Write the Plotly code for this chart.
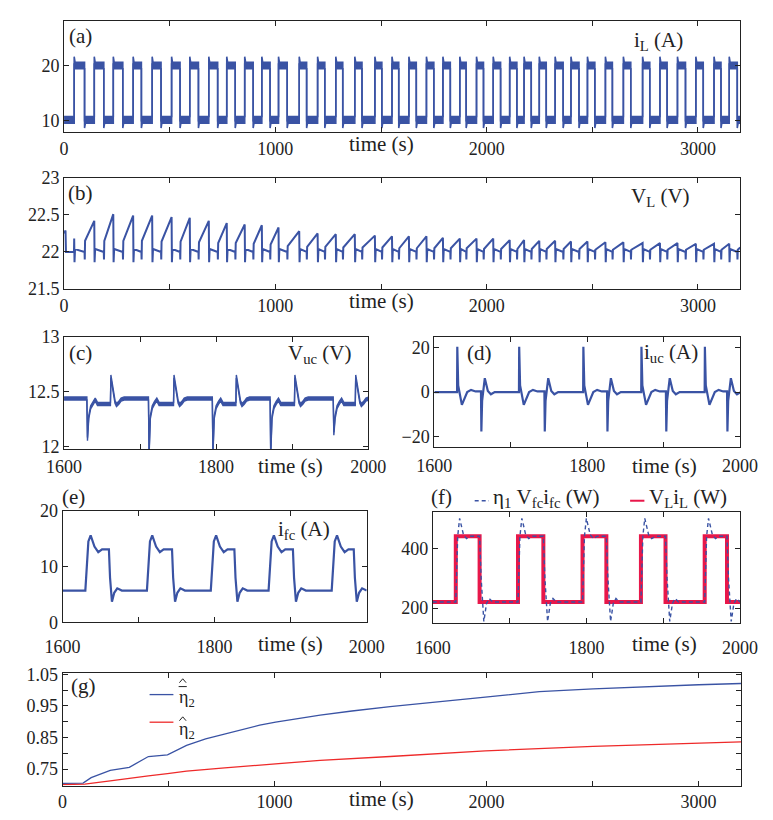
import plotly.graph_objects as go

W, H = 773, 820
BLUE = '#3A53A4'
RED_F = '#E8174A'
RED_G = '#EE2A2A'
INK = '#222222'
FONT = 'Liberation Serif, Times New Roman, serif'

# ---------------- data ----------------
T_END = 3200
# (a) load current i_L : switching instants (s)
IL_RISE = [48, 143, 233, 327, 417, 509, 595, 685, 770, 855, 936, 1015, 1113, 1200, 1286, 1376,
           1471, 1552, 1632, 1715, 1793, 1873, 1952, 2031, 2109, 2177, 2249, 2324, 2399, 2477,
           2562, 2647, 2738, 2820, 2903, 2990, 3076, 3148]
IL_FALL = [97, 188, 278, 366, 459, 549, 636, 727, 810, 895, 975, 1056, 1148, 1234, 1319, 1410,
           1504, 1584, 1667, 1750, 1828, 1903, 1985, 2066, 2143, 2211, 2282, 2362, 2437, 2512,
           2595, 2682, 2772, 2854, 2941, 3025, 3109, 3186]
IL_LEVELS = [10.1, 20.0]          # low, high
IL_EDGE = [21.0, 9.2]             # overshoot at rise, undershoot at fall
IL_BAND = 0.6                     # half width of the noise band

# (b) load voltage V_L
VL_INIT_T = [0, 7, 9]
VL_INIT_V = [22.25, 22.29, 22.0]
VL_PEAK = [22.18, 22.42, 22.51, 22.49, 22.49, 22.47, 22.46, 22.42, 22.39, 22.37, 22.36, 22.33,
           22.28, 22.25, 22.24, 22.24, 22.22, 22.21, 22.21, 22.21, 22.19, 22.18, 22.18, 22.18,
           22.16, 22.16, 22.15, 22.15, 22.14, 22.14, 22.13, 22.13, 22.12, 22.12, 22.12, 22.11,
           22.11, 22.11]
VL_RAMP_START = [22.15, 22.15, 22.15, 22.15, 22.14, 22.14, 22.13, 22.12, 22.12, 22.11, 22.10,
                 22.08, 22.07, 22.07, 22.06, 22.06, 22.06, 22.05, 22.05, 22.05, 22.05, 22.05,
                 22.04, 22.04, 22.04, 22.04, 22.04, 22.04, 22.04, 22.03, 22.03, 22.03, 22.03,
                 22.03, 22.03, 22.03, 22.03, 22.03]
VL_RISE_DT = [1.5, 4]
VL_RISE_V = [21.86, 22.04]
VL_FALL_DT = [0, 1]
VL_FALL_V = [22.0, 21.9]
VL_END = 22.06

# (c)-(f) zoom window 1600-2000 s
Z_RISE = [1630, 1711, 1795, 1871, 1954]
Z_FALL = [1661, 1744, 1826, 1903, 1983]

VUC_BASE = 12.44
VUC_DIP = [12.07, 11.93, 11.93, 11.93, 12.12]
VUC_RISE_DT = [0, 0.8, 2.5, 5, 8, 11, 14]
VUC_RISE_V = [12.44, None, 12.27, 12.36, 12.40, 12.43, 12.39]
VUC_FALL_DT = [0, 0.6, 3, 6, 8, 11, 14, 18]
VUC_FALL_V = [12.39, 12.64, 12.52, 12.41, 12.38, 12.40, 12.43, 12.44]
VUC_BAND = 0.014

IUC_BASE = 0.0
IUC_RISE_DT = [-0.3, 0, 1.2, 6, 13, 18, 24]
IUC_RISE_V = [0.0, 20.5, 3.0, -5.8, 0.0, 1.0, 0.3]
IUC_FALL_DT = [0, 0.5, 1.5, 5, 9, 13, 18]
IUC_FALL_V = [0.3, -17.8, -4.0, 6.3, 0.5, -1.0, 0.0]

IFC_BASE = 5.7
IFC_RISE_DT = [0, 4, 7, 12, 17, 22]
IFC_RISE_V = [5.7, 14.5, 15.6, 13.6, 12.6, 13.1]
IFC_FALL_DT = [0, 1.5, 4, 7, 11, 17]
IFC_FALL_V = [13.1, 8.0, 3.7, 5.3, 6.1, 5.7]

PL_BASE = 220
PL_RISE_DT = [0, 0]
PL_RISE_V = [220, 440]
PL_FALL_DT = [0, 0]
PL_FALL_V = [440, 220]

PFC_RISE_DT = [0, 2.5, 5, 10, 14, 19]
PFC_RISE_V = [220, 440, 500, 445, 432, 440]
PFC_FALL_DT = [0, 2, 5.5, 9, 12.5, 17]
PFC_FALL_V = [440, 300, 155, 215, 232, 220]

# (g) efficiency estimates
G_T_BLUE = [0, 97, 135, 225, 315, 405, 495, 585, 675, 765, 840, 930, 1005, 1110, 1215, 1365,
            1545, 1994, 2249, 2503, 2743, 3000, 3200]
G_BLUE = [0.705, 0.706, 0.723, 0.746, 0.756, 0.790, 0.795, 0.825, 0.846, 0.861, 0.874, 0.889,
          0.899, 0.910, 0.921, 0.934, 0.948, 0.978, 0.995, 1.004, 1.011, 1.017, 1.021]
G_T_RED = [0, 105, 225, 315, 405, 495, 585, 765, 1005, 1215, 1545, 1994, 2503, 3000, 3200]
G_RED = [0.701, 0.703, 0.713, 0.722, 0.729, 0.736, 0.744, 0.754, 0.766, 0.778, 0.790, 0.808,
         0.822, 0.833, 0.836]


# ---------------- build series from the read events ----------------
def event_series(t0, t1, base, rises, falls, rdt, rv, fdt, fv, dips=None):
    t, v = [t0], [base]
    for i, (r, f) in enumerate(zip(rises, falls)):
        vals = list(rv)
        if dips is not None:
            vals = [dips[i] if x is None else x for x in vals]
        t += [r + d for d in rdt]
        v += vals
        t += [f + d for d in fdt]
        v += list(fv)
    t.append(t1)
    v.append(v[-1])
    return t, v


il_t, il_v = event_series(0, T_END, IL_LEVELS[0], IL_RISE, IL_FALL,
                          [0, 0, 4], [IL_LEVELS[0], IL_EDGE[0], IL_LEVELS[1]],
                          [0, 0, 4], [IL_LEVELS[1], IL_EDGE[1], IL_LEVELS[0]])

vl_t, vl_v = list(VL_INIT_T), list(VL_INIT_V)
for i, (r, f) in enumerate(zip(IL_RISE, IL_FALL)):
    if i == 0:
        vl_t.append(r - 1)
        vl_v.append(VL_INIT_V[-1])
    vl_t += [r] + [r + d for d in VL_RISE_DT] + [f + d for d in VL_FALL_DT] + [f + 2.5]
    vl_v += [VL_PEAK[i]] + VL_RISE_V + VL_FALL_V + [VL_RAMP_START[i]]
vl_t.append(T_END)
vl_v.append(VL_END)

vuc_t, vuc_v = event_series(1600, 2000, VUC_BASE, Z_RISE, Z_FALL, VUC_RISE_DT, VUC_RISE_V,
                            VUC_FALL_DT, VUC_FALL_V, dips=VUC_DIP)
iuc_t, iuc_v = event_series(1600, 2000, IUC_BASE, Z_RISE, Z_FALL, IUC_RISE_DT, IUC_RISE_V,
                            IUC_FALL_DT, IUC_FALL_V)
ifc_t, ifc_v = event_series(1600, 2000, IFC_BASE, Z_RISE, Z_FALL, IFC_RISE_DT, IFC_RISE_V,
                            IFC_FALL_DT, IFC_FALL_V)
pl_t, pl_v = event_series(1600, 2000, PL_BASE, Z_RISE, Z_FALL, PL_RISE_DT, PL_RISE_V,
                          PL_FALL_DT, PL_FALL_V)
pfc_t, pfc_v = event_series(1600, 2000, PL_BASE, Z_RISE, Z_FALL, PFC_RISE_DT, PFC_RISE_V,
                            PFC_FALL_DT, PFC_FALL_V)

# ---------------- figure ----------------
fig = go.Figure()


def band(t, v, hw, ax, color, lw):
    fig.add_trace(go.Scatter(x=t, y=[a - hw for a in v], mode='lines', xaxis=ax[0], yaxis=ax[1],
                             line=dict(color=color, width=lw), showlegend=False, hoverinfo='skip'))
    fig.add_trace(go.Scatter(x=t, y=[a + hw for a in v], mode='lines', xaxis=ax[0], yaxis=ax[1],
                             line=dict(color=color, width=lw), fill='tonexty', fillcolor=color,
                             showlegend=False, hoverinfo='skip'))


def line(t, v, ax, color, lw, dash=None):
    fig.add_trace(go.Scatter(x=t, y=v, mode='lines', xaxis=ax[0], yaxis=ax[1],
                             line=dict(color=color, width=lw, dash=dash),
                             showlegend=False, hoverinfo='skip'))


band(il_t, il_v, IL_BAND, ('x', 'y'), BLUE, 1.6)
line(vl_t, vl_v, ('x2', 'y2'), BLUE, 2)
band(vuc_t, vuc_v, VUC_BAND, ('x3', 'y3'), BLUE, 1.4)
line(iuc_t, iuc_v, ('x4', 'y4'), BLUE, 2.2)
line(ifc_t, ifc_v, ('x5', 'y5'), BLUE, 2.2)
line(pl_t, pl_v, ('x6', 'y6'), RED_F, 4)
line(pfc_t, pfc_v, ('x6', 'y6'), BLUE, 1.4, dash='4px,3px')
line(G_T_BLUE, G_BLUE, ('x7', 'y7'), BLUE, 1.3)
line(G_T_RED, G_RED, ('x7', 'y7'), RED_G, 1.3)


def dom_x(a, b):
    return [a / W, b / W]


def dom_y(top, bottom):
    return [1 - bottom / H, 1 - top / H]


def axis(domain, rng, tickvals, ticktext, anchor, standoff=0):
    d = dict(domain=domain, range=rng, tickvals=tickvals, ticktext=ticktext, anchor=anchor,
             ticks='inside', ticklen=5, tickcolor=INK, tickwidth=1,
             showline=True, linecolor=INK, linewidth=1, mirror='ticks',
             showgrid=False, zeroline=False,
             tickfont=dict(family=FONT, size=18, color=INK))
    if standoff:
        d['ticklabelstandoff'] = standoff
    return d


long_ticks = [0, 500, 1000, 1500, 2000, 2500, 3000]
long_text = ['0', '', '1000', '', '2000', '', '3000']
zoom_ticks = [1600, 1700, 1800, 1900, 2000]
zoom_text = ['1600', '', '1800', '', '2000']

panels = {
    '': (dom_x(48.3, 757.5), dom_y(11.3, 125), [0, T_END], long_ticks, long_text,
         [7.9, 28.1], [10, 20], ['10', '20'], 0),
    '2': (dom_x(48.3, 757.5), dom_y(172, 286), [0, T_END], long_ticks, long_text,
          [21.5, 23], [21.5, 22, 22.5, 23], ['21.5', '22', '22.5', '23'], 0),
    '3': (dom_x(48.3, 367.3), dom_y(335, 450), [1600, 2000], zoom_ticks, zoom_text,
          [11.98, 13], [12, 12.5, 13], ['12', '12.5', '13'], 1),
    '4': (dom_x(436.7, 757.3), dom_y(335, 448.3), [1600, 2000], zoom_ticks, zoom_text,
          [-25, 25], [-20, 0, 20], ['\u221220', '0', '20'], 2),
    '5': (dom_x(46.7, 365.7), dom_y(513.3, 627.7), [1600, 2000], zoom_ticks, zoom_text,
          [0, 20], [0, 10, 20], ['0', '10', '20'], 8),
    '6': (dom_x(435, 757.3), dom_y(514.3, 628.3), [1600, 2000], zoom_ticks, zoom_text,
          [150, 522], [200, 400], ['200', '400'], 8),
    '7': (dom_x(46.7, 758.3), dom_y(679.3, 795), [0, T_END], long_ticks, long_text,
          [0.698, 1.055], [0.75, 0.8, 0.85, 0.9, 0.95, 1.0, 1.05],
          ['0.75', '', '0.85', '', '0.95', '', '1.05'], 0),
}

lay = {}
for k, (dx, dy, xr, xt, xtt, yr, yt, ytt, so) in panels.items():
    lay['xaxis' + k] = axis(dx, xr, xt, xtt, 'y' + k, so)
    lay['yaxis' + k] = axis(dy, yr, yt, ytt, 'x' + k)


def ann(text, x, y, size=19, xanchor='center', yanchor='middle'):
    return dict(text=text, x=x / W, y=1 - y / H, xref='paper', yref='paper', showarrow=False,
                font=dict(family=FONT, size=size, color=INK), xanchor=xanchor, yanchor=yanchor)


annotations = [
    ann('time (s)', 381, 137, 21), ann('time (s)', 381, 298, 21),
    ann('time (s)', 286, 467, 21), ann('time (s)', 678, 467, 21),
    ann('time (s)', 286, 650, 21), ann('time (s)', 678, 650, 21),
    ann('time (s)', 381, 809, 21),
    ann('(a)', 66, 27, 21), ann('(b)', 66, 188, 21), ann('(c)', 66, 352, 21),
    ann('(d)', 484, 352, 21), ann('(e)', 58, 499, 21), ann('(f)', 444, 499, 21),
    ann('(g)', 69, 693, 21),
    ann('i<sub>L</sub> (A)', 672, 32, 21), ann('V<sub>L</sub> (V)', 674, 192, 21),
    ann('V<sub>uc</sub> (V)', 316, 353, 21), ann('i<sub>uc</sub> (A)', 685, 352, 21),
    ann('i<sub>fc</sub> (A)', 300, 533, 21),
    ann('\u03b7<sub>1</sub> V<sub>fc</sub>i<sub>fc</sub> (W)', 496, 500, 21, xanchor='left'),
    ann('V<sub>L</sub>i<sub>L</sub> (W)', 660, 500, 21, xanchor='left'),
    ann('\u03b7<sub>2</sub>', 167, 706, 18, xanchor='left'),
    ann('\u03b7<sub>2</sub>', 167, 738, 18, xanchor='left'),
]


def seg(x0, x1, y, color, width, dash=None):
    return dict(type='line', xref='paper', yref='paper', x0=x0 / W, x1=x1 / W,
                y0=1 - y / H, y1=1 - y / H, line=dict(color=color, width=width, dash=dash))


def hat(xc, y):
    def px(x, yy):
        return f'{x / W:.5f},{1 - yy / H:.5f}'
    return dict(type='path', xref='paper', yref='paper',
                path=f'M {px(xc - 3.5, y + 4)} L {px(xc, y)} L {px(xc + 3.5, y + 4)}',
                line=dict(color=INK, width=1))


shapes = [
    seg(479, 494, 503, BLUE, 1.4, '4px,3px'),
    seg(642, 657, 503, RED_F, 2),
    seg(138, 163, 701.7, BLUE, 1.3),
    seg(138, 163, 730, RED_G, 1.3),
    seg(168.5, 177, 693.5, INK, 1),
    hat(172.8, 685.5),
    hat(172.8, 724.5),
]

fig.update_layout(width=W, height=H, margin=dict(l=0, r=0, t=0, b=0), autosize=False,
                  paper_bgcolor='white', plot_bgcolor='white', showlegend=False,
                  annotations=annotations, shapes=shapes, hovermode=False, **lay)

fig.write_html('out.html', config={'displayModeBar': False})
